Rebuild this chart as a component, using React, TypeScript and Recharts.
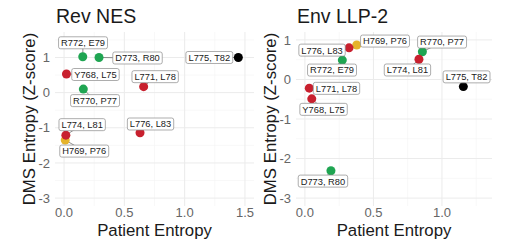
import React from 'react';
import { ScatterChart, Scatter, XAxis, YAxis, CartesianGrid } from 'recharts';

// residue pairs, same order in both panels
const pairs = ['Y768, L75', 'H769, P76', 'R770, P77', 'L771, L78', 'R772, E79', 'D773, R80', 'L774, L81', 'L775, T82', 'L776, L83'];
const groups = ['A', 'C', 'B', 'A', 'B', 'B', 'A', 'D', 'A'];

// Rev NES
const nesPatient = [0.02, 0.01, 0.16, 0.66, 0.155, 0.29, 0.015, 1.445, 0.63];
const nesDms = [0.53, -1.35, 0.1, 0.17, 1.02, 1.0, -1.21, 1.0, -1.14];

// Env LLP-2
const llpPatient = [0.05, 0.378, 0.857, 0.032, 0.273, 0.19, 0.832, 1.156, 0.322];
const llpDms = [-0.49, 0.87, 0.7, -0.22, 0.49, -2.31, 0.51, -0.18, 0.8];

const yTicks = [-3, -2, -1, 0, 1];

// where the repelled label boxes sit relative to their point (px)
const nesLabelShift = [[29, 0.5], [19, 11], [11.7, 11.5], [11.5, -10], [0.3, -14], [38.5, 0.5], [16.3, -10.5], [-29, 0], [10.5, -8.7]];
const llpLabelShift = [[11.8, 10.5], [28.3, -4], [19.7, -9.7], [27.2, 0.2], [-10.3, 10], [-8, 10.3], [-11.5, 10.7], [3.2, -9.7], [-27, 2.3]];

const groupColor: Record<string, string> = { A: '#C8202E', B: '#1FA552', C: '#E5B32B', D: '#000000' };

const FONT = '"Liberation Sans", Arial, Helvetica, sans-serif';
const TAG_SIZE = 9.3;

// rough Arial advance widths (em) for the label boxes
const charW: Record<string, number> = { ',': 0.278, ' ': 0.278, R: 0.722, E: 0.667, Y: 0.667, L: 0.556, H: 0.722, P: 0.667, D: 0.722, T: 0.611 };
const textWidth = (s: string) => s.split('').reduce((w, c) => w + (charW[c] ?? 0.556), 0) * TAG_SIZE;

const buildPoints = (xs: number[], ys: number[], shift: number[][]) =>
  pairs.map((pair, i) => ({ pair, group: groups[i], x: xs[i], y: ys[i], dx: shift[i][0], dy: shift[i][1] }));

const Segment = (p: any) => (
  <line x1={p.cx} y1={p.cy} x2={p.cx + p.payload.dx} y2={p.cy + p.payload.dy} stroke="#444" strokeWidth={0.6} />
);

const Dot = (p: any) => <circle cx={p.cx} cy={p.cy} r={4.5} fill={groupColor[p.payload.group]} />;

const Tag = (p: any) => {
  const w = textWidth(p.payload.pair) + 5;
  const h = 12;
  const cx = p.cx + p.payload.dx;
  const cy = p.cy + p.payload.dy;
  return (
    <g>
      <rect x={cx - w / 2} y={cy - h / 2} width={w} height={h} rx={2} fill="#fff" stroke="#8a8a8a" strokeWidth={0.7} />
      <text x={cx} y={cy + 3.4} textAnchor="middle" fontSize={TAG_SIZE} fontFamily={FONT} fill="#1a1a1a">
        {p.payload.pair}
      </text>
    </g>
  );
};

interface PanelProps {
  title: string;
  data: any[];
  width: number;
  plotLeft: number;
  plotRight: number;
  xDomain: [number, number];
  xTicks: number[];
  xMinor: number[];
  yDomain: [number, number];
  yMinor: number[];
}

const HEIGHT = 247;
const TOP = 32;
const BOTTOM = 41;

const Panel: React.FC<PanelProps> = ({ title, data, width, plotLeft, plotRight, xDomain, xTicks, xMinor, yDomain, yMinor }) => {
  const midY = TOP + (HEIGHT - TOP - BOTTOM) / 2;
  const midX = (plotLeft + plotRight) / 2;
  const tickStyle = { fontSize: 13, fill: '#666', fontFamily: FONT };

  return (
    <div style={{ position: 'relative', width, height: HEIGHT }}>
      <div style={{ position: 'absolute', left: plotLeft + 1, top: 7, fontSize: 19.5, lineHeight: '19.5px', fontFamily: FONT, color: '#1a1a1a', whiteSpace: 'nowrap' }}>
        {title}
      </div>
      <ScatterChart width={width} height={HEIGHT} margin={{ top: TOP, right: width - plotRight, bottom: 0, left: 0 }}>
        <CartesianGrid horizontalValues={yMinor} verticalValues={xMinor} stroke="#f3f3f3" strokeWidth={0.6} />
        <CartesianGrid horizontalValues={yTicks} verticalValues={xTicks} stroke="#ebebeb" strokeWidth={1} />
        <XAxis
          type="number"
          dataKey="x"
          domain={xDomain}
          ticks={xTicks}
          interval={0}
          allowDataOverflow
          height={BOTTOM}
          axisLine={false}
          tickLine={false}
          tickSize={0}
          tickMargin={2}
          tick={tickStyle}
          tickFormatter={(v: number) => v.toFixed(1)}
          label={{
            content: () => (
              <text x={midX} y={236} textAnchor="middle" fontSize={16.8} fontFamily={FONT} fill="#1a1a1a">
                Patient Entropy
              </text>
            ),
          }}
        />
        <YAxis
          type="number"
          dataKey="y"
          domain={yDomain}
          ticks={yTicks}
          interval={0}
          allowDataOverflow
          width={plotLeft}
          axisLine={false}
          tickLine={false}
          tickSize={0}
          tickMargin={5}
          tick={tickStyle}
          tickFormatter={(v: number) => String(v)}
          label={{
            content: () => (
              <text
                x={plotLeft - 20.5}
                y={midY}
                transform={`rotate(-90 ${plotLeft - 20.5} ${midY})`}
                textAnchor="middle"
                fontSize={16.8}
                fontFamily={FONT}
                fill="#1a1a1a"
              >
                DMS Entropy (Z-score)
              </text>
            ),
          }}
        />
        <Scatter data={data} shape={Segment} isAnimationActive={false} />
        <Scatter data={data} shape={Dot} isAnimationActive={false} />
        <Scatter data={data} shape={Tag} isAnimationActive={false} />
      </ScatterChart>
    </div>
  );
};

export default function App() {
  const nes = buildPoints(nesPatient, nesDms, nesLabelShift);
  const llp = buildPoints(llpPatient, llpDms, llpLabelShift);

  return (
    <div style={{ position: 'absolute', left: 0, top: 0, width: 511, height: 247, background: '#fff', display: 'flex' }}>
      <Panel
        title="Rev NES"
        data={nes}
        width={255}
        plotLeft={55}
        plotRight={254}
        xDomain={[-0.075, 1.575]}
        xTicks={[0, 0.5, 1, 1.5]}
        xMinor={[0.25, 0.75, 1.25]}
        yDomain={[-3.225, 1.725]}
        yMinor={[-2.5, -1.5, -0.5, 0.5, 1.5]}
      />
      <Panel
        title="Env LLP-2"
        data={llp}
        width={256}
        plotLeft={41}
        plotRight={237}
        xDomain={[-0.065, 1.365]}
        xTicks={[0, 0.5, 1]}
        xMinor={[0.25, 0.75, 1.25]}
        yDomain={[-3.2, 1.2]}
        yMinor={[-2.5, -1.5, -0.5, 0.5]}
      />
    </div>
  );
}
